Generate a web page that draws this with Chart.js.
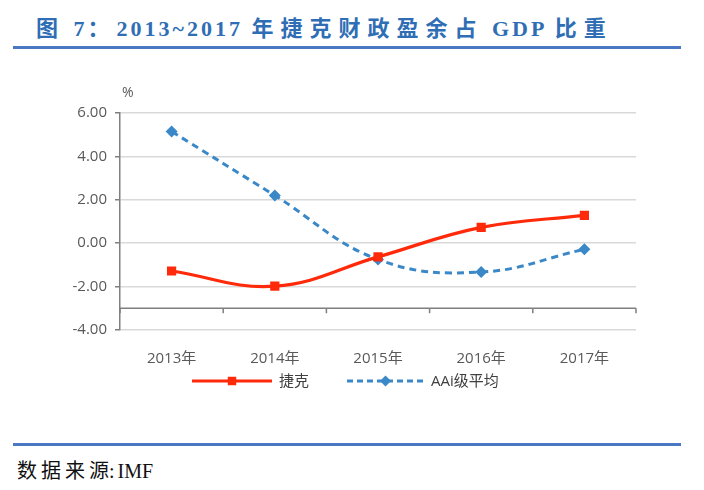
<!DOCTYPE html>
<html>
<head>
<meta charset="utf-8">
<script src="https://cdn.jsdelivr.net/npm/chart.js@4/dist/chart.umd.min.js"></script>
<style>
  body { margin: 0; background: #fff; width: 704px; height: 490px; position: relative; overflow: hidden; }
  #title { position: absolute; left: 36px; top: 10px; line-height: 24px; font: bold 22px "Liberation Serif", "Noto Sans CJK SC", serif; letter-spacing: 3px; color: #2F6EB5; white-space: nowrap; }
  #title .cjk { letter-spacing: 7px; }
  .rule { position: absolute; left: 13px; width: 668px; height: 3px; background: #4A78C2; }
  #source { position: absolute; left: 17px; top: 455px; line-height: 22px; font: 20px "Liberation Serif", "Noto Sans CJK SC", serif; color: #111; white-space: nowrap; }
  #source .cjk { letter-spacing: 4px; }
  #source .colon { margin-right: 3px; }
  #chartBox { position: absolute; left: 0; top: 60px; width: 704px; height: 350px; }
</style>
</head>
<body>
<div id="title"><span class="cjk">图</span> 7<span class="cjk">：</span>2013~2017 <span class="cjk">年捷克财政盈余占</span> GDP <span class="cjk">比重</span></div>
<div class="rule" style="top:46px"></div>
<div id="chartBox"><canvas id="myChart" width="704" height="350"></canvas></div>
<div class="rule" style="top:443px"></div>
<div id="source"><span class="cjk">数据来</span>源<span class="colon">:</span>IMF</div>

<script>
'use strict';

// DATA
let years = ['2013年', '2014年', '2015年', '2016年', '2017年'];
let czechValues = [-1.28, -1.98, -0.63, 0.73, 1.28];
let aaiValues = [5.15, 2.2, -0.75, -1.33, -0.28];
let seriesNames = ['捷克', 'AAi级平均'];
let yTicks = [-4, -2, 0, 2, 4, 6];
let crossValue = -3; // where the category axis crosses

// COLORS
let red = '#FF2A0A';
let blue = '#3A88C8';
let axisGray = '#7F7F7F';
let labelFont = '"Open Sans", "Noto Sans CJK SC", sans-serif';

// draws the category axis at -3 plus its tick marks, the % label and the legend
let extrasPlugin = {
  id: 'extras',
  afterDraw(chart) {
    let ctx = chart.ctx;
    let x = chart.scales.x;
    let y = chart.scales.y;
    let yPos = y.getPixelForValue(crossValue);
    let step = x.getPixelForValue(1) - x.getPixelForValue(0);

    ctx.save();
    ctx.strokeStyle = axisGray;
    ctx.lineWidth = 1.5;
    ctx.beginPath();
    ctx.moveTo(x.left, yPos);
    ctx.lineTo(x.right, yPos);
    for (let i = 0; i <= years.length; i++) {
      let px = x.getPixelForValue(i) - step / 2;
      ctx.moveTo(px, yPos);
      ctx.lineTo(px, yPos + 5);
    }
    ctx.stroke();

    // unit label
    ctx.fillStyle = '#595959';
    ctx.font = '14px ' + labelFont;
    ctx.textBaseline = 'middle';
    ctx.fillText('%', chart.chartArea.left + 2, chart.chartArea.top - 20);

    // legend
    let cx = chart.width / 2;
    let ly = chart.chartArea.bottom + 51;
    let items = [
      { start: cx - 160, len: 80, color: red, dash: [], style: 'rect', radius: 6 },
      { start: cx - 5, len: 77, color: blue, dash: [6, 4], style: 'rectRot', radius: 5.5 }
    ];
    items.forEach(function(item, i) {
      ctx.strokeStyle = item.color;
      ctx.lineWidth = 3;
      ctx.setLineDash(item.dash);
      ctx.beginPath();
      ctx.moveTo(item.start, ly);
      ctx.lineTo(item.start + item.len, ly);
      ctx.stroke();
      ctx.setLineDash([]);
      ctx.fillStyle = item.color;
      Chart.helpers.drawPoint(ctx, { pointStyle: item.style, radius: item.radius, borderWidth: 0 }, item.start + item.len / 2, ly);
      ctx.fillStyle = '#404040';
      ctx.font = '15px ' + labelFont;
      ctx.textAlign = 'left';
      ctx.fillText(seriesNames[i], item.start + item.len + 7, ly + 1);
    });
    ctx.restore();
  }
};

let ctx = document.getElementById('myChart');
let myChart = new Chart(ctx, {
  type: 'line',
  data: {
    labels: years,
    datasets: [
      {
        label: seriesNames[0],
        data: czechValues,
        borderColor: red,
        backgroundColor: red,
        borderWidth: 3.2,
        tension: 0.4,
        pointStyle: 'rect',
        pointRadius: 6.5,
        pointBorderWidth: 0
      },
      {
        label: seriesNames[1],
        data: aaiValues,
        borderColor: blue,
        backgroundColor: blue,
        borderWidth: 3,
        borderDash: [7, 5],
        tension: 0.4,
        pointStyle: 'rectRot',
        pointRadius: 6,
        pointBorderWidth: 0
      }
    ]
  },
  options: {
    responsive: false,
    animation: false,
    layout: { padding: { top: 53, right: 68, left: 0, bottom: 40 } },
    plugins: {
      legend: { display: false },
      tooltip: { enabled: false }
    },
    scales: {
      x: {
        offset: true,
        grid: { display: false },
        border: { display: false },
        ticks: { color: '#595959', font: { size: 15, family: labelFont }, padding: 12 },
        afterFit(scale) { scale.height = 40; }
      },
      y: {
        min: yTicks[0],
        max: yTicks[yTicks.length - 1],
        afterBuildTicks(scale) {
          scale.ticks = yTicks.map(function(v) { return { value: v }; });
          scale.ticks.splice(1, 0, { value: crossValue });
        },
        ticks: {
          color: '#595959',
          font: { size: 15, family: labelFont },
          padding: 8,
          callback: function(v) { return v === crossValue ? '' : v.toFixed(2); }
        },
        grid: {
          color: function(c) { return c.tick && c.tick.value === crossValue ? 'rgba(0,0,0,0)' : '#D9D9D9'; },
          tickColor: function(c) { return c.tick && c.tick.value === crossValue ? 'rgba(0,0,0,0)' : axisGray; },
          lineWidth: 1.5,
          tickLength: 5
        },
        border: { color: axisGray, width: 1.5 },
        afterFit(scale) { scale.width = 120; }
      }
    }
  },
  plugins: [extrasPlugin]
});
</script>
</body>
</html>
